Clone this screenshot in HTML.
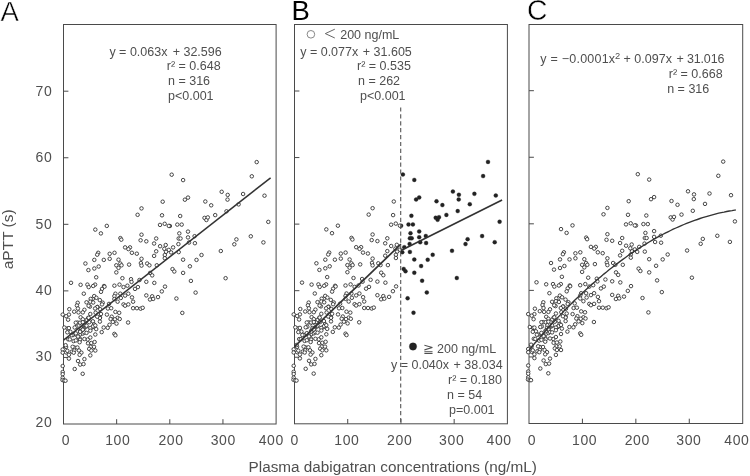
<!DOCTYPE html>
<html><head><meta charset="utf-8"><title>Figure</title>
<style>
html,body{margin:0;padding:0;background:#fff;}
body{width:750px;height:476px;overflow:hidden;font-family:"Liberation Sans",sans-serif;}
svg{display:block;position:absolute;left:0;top:0;filter:grayscale(1);}
text{font-family:"Liberation Sans",sans-serif;}
.t{font-size:12.5px;fill:#4f4f4f;}
.ax{font-size:14px;fill:#4f4f4f;letter-spacing:0.6px;}
.pl{font-size:27.5px;fill:#000;}
.o{fill:#fff;stroke:#333;stroke-width:0.9;}
.f{fill:#222;stroke:#222;stroke-width:0.3;}
.fr{fill:none;stroke:#4a4a4a;stroke-width:1;}
.tk{stroke:#4a4a4a;stroke-width:1;}
.ln{fill:none;stroke:#333;stroke-width:1.7;}
</style></head><body>
<svg width="750" height="476" viewBox="0 0 750 476">
<rect x="0" y="0" width="750" height="476" fill="#fff"/>

<rect class="fr" x="63.50" y="24.5" width="212.60" height="399.50"/>
<line class="tk" x1="63.50" x2="68.40" y1="357.44" y2="357.44"/>
<line class="tk" x1="63.50" x2="68.40" y1="290.88" y2="290.88"/>
<line class="tk" x1="63.50" x2="68.40" y1="224.32" y2="224.32"/>
<line class="tk" x1="63.50" x2="68.40" y1="157.76" y2="157.76"/>
<line class="tk" x1="63.50" x2="68.40" y1="91.20" y2="91.20"/>
<line class="tk" x1="116.65" x2="116.65" y1="424.00" y2="419.20"/>
<line class="tk" x1="169.80" x2="169.80" y1="424.00" y2="419.20"/>
<line class="tk" x1="222.95" x2="222.95" y1="424.00" y2="419.20"/>
<text class="ax" x="66.00" y="445.2" text-anchor="middle">0</text>
<text class="ax" x="117.80" y="445.2" text-anchor="middle">100</text>
<text class="ax" x="171.00" y="445.2" text-anchor="middle">200</text>
<text class="ax" x="223.30" y="445.2" text-anchor="middle">300</text>
<text class="ax" x="271.30" y="445.2" text-anchor="middle">400</text>
<rect class="fr" x="294.50" y="24.5" width="212.90" height="399.30"/>
<line class="tk" x1="294.50" x2="299.40" y1="357.24" y2="357.24"/>
<line class="tk" x1="294.50" x2="299.40" y1="290.68" y2="290.68"/>
<line class="tk" x1="294.50" x2="299.40" y1="224.12" y2="224.12"/>
<line class="tk" x1="294.50" x2="299.40" y1="157.56" y2="157.56"/>
<line class="tk" x1="294.50" x2="299.40" y1="91.00" y2="91.00"/>
<line class="tk" x1="347.72" x2="347.72" y1="423.80" y2="419.00"/>
<line class="tk" x1="400.95" x2="400.95" y1="423.80" y2="419.00"/>
<line class="tk" x1="454.17" x2="454.17" y1="423.80" y2="419.00"/>
<text class="ax" x="294.80" y="445.2" text-anchor="middle">0</text>
<text class="ax" x="346.90" y="445.2" text-anchor="middle">100</text>
<text class="ax" x="399.70" y="445.2" text-anchor="middle">200</text>
<text class="ax" x="451.70" y="445.2" text-anchor="middle">300</text>
<text class="ax" x="499.10" y="445.2" text-anchor="middle">400</text>
<rect class="fr" x="529.00" y="24.5" width="213.70" height="399.00"/>
<line class="tk" x1="529.00" x2="533.90" y1="356.94" y2="356.94"/>
<line class="tk" x1="529.00" x2="533.90" y1="290.38" y2="290.38"/>
<line class="tk" x1="529.00" x2="533.90" y1="223.82" y2="223.82"/>
<line class="tk" x1="529.00" x2="533.90" y1="157.26" y2="157.26"/>
<line class="tk" x1="529.00" x2="533.90" y1="90.70" y2="90.70"/>
<line class="tk" x1="582.42" x2="582.42" y1="423.50" y2="418.70"/>
<line class="tk" x1="635.85" x2="635.85" y1="423.50" y2="418.70"/>
<line class="tk" x1="689.28" x2="689.28" y1="423.50" y2="418.70"/>
<text class="ax" x="532.00" y="445.2" text-anchor="middle">0</text>
<text class="ax" x="584.60" y="445.2" text-anchor="middle">100</text>
<text class="ax" x="637.30" y="445.2" text-anchor="middle">200</text>
<text class="ax" x="688.90" y="445.2" text-anchor="middle">300</text>
<text class="ax" x="736.90" y="445.2" text-anchor="middle">400</text>
<text class="ax" x="52.4" y="427.3" text-anchor="end">20</text>
<text class="ax" x="52.4" y="361.0" text-anchor="end">30</text>
<text class="ax" x="52.4" y="294.7" text-anchor="end">40</text>
<text class="ax" x="52.4" y="228.5" text-anchor="end">50</text>
<text class="ax" x="52.4" y="162.2" text-anchor="end">60</text>
<text class="ax" x="52.4" y="95.9" text-anchor="end">70</text>
<text class="ax" transform="translate(13.3,239.3) rotate(-90)" text-anchor="middle" style="font-size:15.5px;letter-spacing:0">aPTT (s)</text>
<text class="ax" x="392.7" y="471.5" text-anchor="middle" style="font-size:15.3px;letter-spacing:0">Plasma dabigatran concentrations (ng/mL)</text>
<text class="pl" x="0.5" y="20.9" style="stroke:#fff;stroke-width:0.45;paint-order:fill stroke">A</text>
<text class="pl" x="291.6" y="19.9">B</text>
<text class="pl" transform="translate(526.9,20.3) scale(1.03,1.08)" x="0" y="0" style="stroke:#fff;stroke-width:0.45;paint-order:fill stroke">C</text>
<g><circle class="o" cx="77.6" cy="322.6" r="1.75"/><circle class="o" cx="67.5" cy="328.4" r="1.75"/><circle class="o" cx="86.2" cy="326.7" r="1.75"/><circle class="o" cx="85.1" cy="322.3" r="1.75"/><circle class="o" cx="66.1" cy="347.0" r="1.75"/><circle class="o" cx="68.2" cy="339.3" r="1.75"/><circle class="o" cx="81.7" cy="325.7" r="1.75"/><circle class="o" cx="73.6" cy="341.1" r="1.75"/><circle class="o" cx="89.9" cy="306.6" r="1.75"/><circle class="o" cx="80.6" cy="334.2" r="1.75"/><circle class="o" cx="104.0" cy="286.0" r="1.75"/><circle class="o" cx="76.3" cy="327.0" r="1.75"/><circle class="o" cx="70.4" cy="331.8" r="1.75"/><circle class="o" cx="97.5" cy="306.9" r="1.75"/><circle class="o" cx="71.9" cy="351.7" r="1.75"/><circle class="o" cx="79.6" cy="338.3" r="1.75"/><circle class="o" cx="86.7" cy="320.0" r="1.75"/><circle class="o" cx="72.9" cy="335.1" r="1.75"/><circle class="o" cx="92.0" cy="327.5" r="1.75"/><circle class="o" cx="88.2" cy="317.9" r="1.75"/><circle class="o" cx="82.9" cy="333.5" r="1.75"/><circle class="o" cx="92.8" cy="298.8" r="1.75"/><circle class="o" cx="74.4" cy="347.5" r="1.75"/><circle class="o" cx="99.9" cy="317.5" r="1.75"/><circle class="o" cx="94.0" cy="324.3" r="1.75"/><circle class="o" cx="69.3" cy="309.2" r="1.75"/><circle class="o" cx="81.5" cy="328.3" r="1.75"/><circle class="o" cx="84.3" cy="332.4" r="1.75"/><circle class="o" cx="66.1" cy="352.4" r="1.75"/><circle class="o" cx="87.7" cy="339.5" r="1.75"/><circle class="o" cx="99.9" cy="318.0" r="1.75"/><circle class="o" cx="88.6" cy="305.8" r="1.75"/><circle class="o" cx="88.0" cy="343.3" r="1.75"/><circle class="o" cx="102.7" cy="302.7" r="1.75"/><circle class="o" cx="83.7" cy="328.5" r="1.75"/><circle class="o" cx="92.9" cy="321.3" r="1.75"/><circle class="o" cx="90.7" cy="298.9" r="1.75"/><circle class="o" cx="76.1" cy="334.6" r="1.75"/><circle class="o" cx="80.1" cy="331.0" r="1.75"/><circle class="o" cx="83.2" cy="329.1" r="1.75"/><circle class="o" cx="71.4" cy="335.2" r="1.75"/><circle class="o" cx="95.6" cy="312.7" r="1.75"/><circle class="o" cx="69.8" cy="339.4" r="1.75"/><circle class="o" cx="99.8" cy="300.1" r="1.75"/><circle class="o" cx="256.7" cy="162.1" r="1.75"/><circle class="o" cx="251.8" cy="176.3" r="1.75"/><circle class="o" cx="171.7" cy="174.7" r="1.75"/><circle class="o" cx="183.1" cy="180.1" r="1.75"/><circle class="o" cx="221.7" cy="191.8" r="1.75"/><circle class="o" cx="227.7" cy="194.9" r="1.75"/><circle class="o" cx="227.5" cy="199.6" r="1.75"/><circle class="o" cx="243.1" cy="194.0" r="1.75"/><circle class="o" cx="264.5" cy="195.7" r="1.75"/><circle class="o" cx="188.0" cy="197.6" r="1.75"/><circle class="o" cx="184.9" cy="199.7" r="1.75"/><circle class="o" cx="205.3" cy="201.5" r="1.75"/><circle class="o" cx="211.2" cy="205.3" r="1.75"/><circle class="o" cx="238.6" cy="204.4" r="1.75"/><circle class="o" cx="226.5" cy="211.3" r="1.75"/><circle class="o" cx="215.2" cy="215.1" r="1.75"/><circle class="o" cx="204.5" cy="217.9" r="1.75"/><circle class="o" cx="206.4" cy="220.0" r="1.75"/><circle class="o" cx="180.2" cy="216.0" r="1.75"/><circle class="o" cx="177.3" cy="224.6" r="1.75"/><circle class="o" cx="181.7" cy="224.6" r="1.75"/><circle class="o" cx="169.9" cy="226.0" r="1.75"/><circle class="o" cx="188.0" cy="231.6" r="1.75"/><circle class="o" cx="179.3" cy="233.4" r="1.75"/><circle class="o" cx="188.0" cy="237.4" r="1.75"/><circle class="o" cx="194.6" cy="236.2" r="1.75"/><circle class="o" cx="178.7" cy="238.5" r="1.75"/><circle class="o" cx="180.5" cy="238.5" r="1.75"/><circle class="o" cx="189.0" cy="242.5" r="1.75"/><circle class="o" cx="194.9" cy="243.2" r="1.75"/><circle class="o" cx="178.4" cy="244.1" r="1.75"/><circle class="o" cx="173.1" cy="247.4" r="1.75"/><circle class="o" cx="171.1" cy="252.4" r="1.75"/><circle class="o" cx="178.7" cy="252.1" r="1.75"/><circle class="o" cx="268.3" cy="221.9" r="1.75"/><circle class="o" cx="250.8" cy="236.3" r="1.75"/><circle class="o" cx="236.4" cy="239.4" r="1.75"/><circle class="o" cx="234.3" cy="244.3" r="1.75"/><circle class="o" cx="263.4" cy="242.4" r="1.75"/><circle class="o" cx="220.8" cy="251.0" r="1.75"/><circle class="o" cx="201.5" cy="255.0" r="1.75"/><circle class="o" cx="196.5" cy="259.9" r="1.75"/><circle class="o" cx="183.1" cy="259.7" r="1.75"/><circle class="o" cx="189.9" cy="266.3" r="1.75"/><circle class="o" cx="172.5" cy="269.1" r="1.75"/><circle class="o" cx="174.3" cy="271.5" r="1.75"/><circle class="o" cx="183.1" cy="272.9" r="1.75"/><circle class="o" cx="225.6" cy="278.2" r="1.75"/><circle class="o" cx="190.9" cy="280.9" r="1.75"/><circle class="o" cx="195.6" cy="292.6" r="1.75"/><circle class="o" cx="176.4" cy="298.5" r="1.75"/><circle class="o" cx="182.3" cy="312.9" r="1.75"/><circle class="o" cx="162.7" cy="201.7" r="1.75"/><circle class="o" cx="141.5" cy="208.4" r="1.75"/><circle class="o" cx="137.6" cy="214.8" r="1.75"/><circle class="o" cx="162.0" cy="215.3" r="1.75"/><circle class="o" cx="160.0" cy="224.9" r="1.75"/><circle class="o" cx="164.7" cy="223.8" r="1.75"/><circle class="o" cx="168.8" cy="225.9" r="1.75"/><circle class="o" cx="106.8" cy="225.9" r="1.75"/><circle class="o" cx="95.3" cy="229.6" r="1.75"/><circle class="o" cx="100.9" cy="233.4" r="1.75"/><circle class="o" cx="141.5" cy="234.7" r="1.75"/><circle class="o" cx="120.4" cy="238.1" r="1.75"/><circle class="o" cx="121.3" cy="239.7" r="1.75"/><circle class="o" cx="140.6" cy="240.3" r="1.75"/><circle class="o" cx="146.3" cy="241.3" r="1.75"/><circle class="o" cx="156.2" cy="238.5" r="1.75"/><circle class="o" cx="154.1" cy="243.5" r="1.75"/><circle class="o" cx="160.1" cy="246.2" r="1.75"/><circle class="o" cx="165.7" cy="245.0" r="1.75"/><circle class="o" cx="125.1" cy="247.4" r="1.75"/><circle class="o" cx="130.0" cy="247.4" r="1.75"/><circle class="o" cx="128.4" cy="249.1" r="1.75"/><circle class="o" cx="131.9" cy="252.8" r="1.75"/><circle class="o" cx="136.8" cy="253.7" r="1.75"/><circle class="o" cx="164.3" cy="248.8" r="1.75"/><circle class="o" cx="168.8" cy="249.9" r="1.75"/><circle class="o" cx="156.2" cy="251.3" r="1.75"/><circle class="o" cx="166.0" cy="251.8" r="1.75"/><circle class="o" cx="164.8" cy="255.0" r="1.75"/><circle class="o" cx="154.1" cy="255.9" r="1.75"/><circle class="o" cx="98.2" cy="252.8" r="1.75"/><circle class="o" cx="97.2" cy="254.7" r="1.75"/><circle class="o" cx="109.7" cy="253.8" r="1.75"/><circle class="o" cx="114.5" cy="252.8" r="1.75"/><circle class="o" cx="109.7" cy="258.8" r="1.75"/><circle class="o" cx="103.8" cy="259.9" r="1.75"/><circle class="o" cx="94.3" cy="259.9" r="1.75"/><circle class="o" cx="118.5" cy="259.7" r="1.75"/><circle class="o" cx="141.5" cy="258.8" r="1.75"/><circle class="o" cx="164.8" cy="258.2" r="1.75"/><circle class="o" cx="85.4" cy="263.5" r="1.75"/><circle class="o" cx="120.3" cy="263.5" r="1.75"/><circle class="o" cx="116.3" cy="265.3" r="1.75"/><circle class="o" cx="121.5" cy="265.3" r="1.75"/><circle class="o" cx="129.1" cy="264.6" r="1.75"/><circle class="o" cx="140.9" cy="263.1" r="1.75"/><circle class="o" cx="141.5" cy="265.6" r="1.75"/><circle class="o" cx="147.2" cy="263.5" r="1.75"/><circle class="o" cx="149.4" cy="265.3" r="1.75"/><circle class="o" cx="156.8" cy="265.3" r="1.75"/><circle class="o" cx="98.7" cy="266.5" r="1.75"/><circle class="o" cx="94.3" cy="268.5" r="1.75"/><circle class="o" cx="88.4" cy="270.1" r="1.75"/><circle class="o" cx="118.5" cy="267.9" r="1.75"/><circle class="o" cx="116.3" cy="272.4" r="1.75"/><circle class="o" cx="150.1" cy="272.9" r="1.75"/><circle class="o" cx="96.2" cy="277.3" r="1.75"/><circle class="o" cx="122.4" cy="278.2" r="1.75"/><circle class="o" cx="131.0" cy="279.2" r="1.75"/><circle class="o" cx="139.5" cy="280.0" r="1.75"/><circle class="o" cx="71.0" cy="282.8" r="1.75"/><circle class="o" cx="80.6" cy="284.8" r="1.75"/><circle class="o" cx="87.4" cy="284.6" r="1.75"/><circle class="o" cx="88.7" cy="287.1" r="1.75"/><circle class="o" cx="95.1" cy="284.6" r="1.75"/><circle class="o" cx="93.2" cy="286.0" r="1.75"/><circle class="o" cx="104.5" cy="286.7" r="1.75"/><circle class="o" cx="102.0" cy="288.9" r="1.75"/><circle class="o" cx="101.0" cy="291.8" r="1.75"/><circle class="o" cx="114.4" cy="285.7" r="1.75"/><circle class="o" cx="119.5" cy="284.6" r="1.75"/><circle class="o" cx="123.5" cy="287.1" r="1.75"/><circle class="o" cx="127.4" cy="285.7" r="1.75"/><circle class="o" cx="131.5" cy="281.9" r="1.75"/><circle class="o" cx="137.9" cy="287.1" r="1.75"/><circle class="o" cx="135.0" cy="288.9" r="1.75"/><circle class="o" cx="83.8" cy="293.7" r="1.75"/><circle class="o" cx="94.2" cy="296.1" r="1.75"/><circle class="o" cx="96.4" cy="297.8" r="1.75"/><circle class="o" cx="115.4" cy="293.7" r="1.75"/><circle class="o" cx="120.3" cy="293.7" r="1.75"/><circle class="o" cx="114.4" cy="296.1" r="1.75"/><circle class="o" cx="125.1" cy="295.6" r="1.75"/><circle class="o" cx="128.3" cy="293.7" r="1.75"/><circle class="o" cx="132.0" cy="297.4" r="1.75"/><circle class="o" cx="120.8" cy="298.0" r="1.75"/><circle class="o" cx="114.4" cy="299.0" r="1.75"/><circle class="o" cx="77.7" cy="302.8" r="1.75"/><circle class="o" cx="76.9" cy="305.5" r="1.75"/><circle class="o" cx="86.5" cy="302.3" r="1.75"/><circle class="o" cx="90.3" cy="301.7" r="1.75"/><circle class="o" cx="93.2" cy="302.5" r="1.75"/><circle class="o" cx="102.0" cy="304.4" r="1.75"/><circle class="o" cx="109.0" cy="303.9" r="1.75"/><circle class="o" cx="117.6" cy="301.7" r="1.75"/><circle class="o" cx="133.1" cy="301.7" r="1.75"/><circle class="o" cx="123.5" cy="304.4" r="1.75"/><circle class="o" cx="125.1" cy="305.7" r="1.75"/><circle class="o" cx="128.3" cy="304.4" r="1.75"/><circle class="o" cx="97.2" cy="307.1" r="1.75"/><circle class="o" cx="95.1" cy="308.5" r="1.75"/><circle class="o" cx="100.2" cy="309.2" r="1.75"/><circle class="o" cx="77.9" cy="308.5" r="1.75"/><circle class="o" cx="84.4" cy="309.8" r="1.75"/><circle class="o" cx="74.2" cy="311.7" r="1.75"/><circle class="o" cx="78.5" cy="312.4" r="1.75"/><circle class="o" cx="82.8" cy="312.4" r="1.75"/><circle class="o" cx="107.9" cy="308.5" r="1.75"/><circle class="o" cx="111.2" cy="308.2" r="1.75"/><circle class="o" cx="133.1" cy="308.2" r="1.75"/><circle class="o" cx="136.9" cy="308.2" r="1.75"/><circle class="o" cx="140.6" cy="308.7" r="1.75"/><circle class="o" cx="115.4" cy="311.9" r="1.75"/><circle class="o" cx="119.2" cy="312.8" r="1.75"/><circle class="o" cx="106.9" cy="314.6" r="1.75"/><circle class="o" cx="101.0" cy="314.0" r="1.75"/><circle class="o" cx="90.3" cy="314.0" r="1.75"/><circle class="o" cx="68.9" cy="314.6" r="1.75"/><circle class="o" cx="66.2" cy="316.2" r="1.75"/><circle class="o" cx="62.7" cy="314.6" r="1.75"/><circle class="o" cx="80.6" cy="317.3" r="1.75"/><circle class="o" cx="88.7" cy="317.8" r="1.75"/><circle class="o" cx="97.2" cy="316.7" r="1.75"/><circle class="o" cx="111.7" cy="316.7" r="1.75"/><circle class="o" cx="117.6" cy="317.8" r="1.75"/><circle class="o" cx="68.1" cy="319.7" r="1.75"/><circle class="o" cx="82.8" cy="319.3" r="1.75"/><circle class="o" cx="110.6" cy="319.0" r="1.75"/><circle class="o" cx="114.9" cy="319.3" r="1.75"/><circle class="o" cx="119.7" cy="319.0" r="1.75"/><circle class="o" cx="99.9" cy="321.6" r="1.75"/><circle class="o" cx="112.8" cy="321.9" r="1.75"/><circle class="o" cx="116.5" cy="323.6" r="1.75"/><circle class="o" cx="128.1" cy="322.5" r="1.75"/><circle class="o" cx="109.5" cy="324.8" r="1.75"/><circle class="o" cx="75.8" cy="322.7" r="1.75"/><circle class="o" cx="80.1" cy="322.7" r="1.75"/><circle class="o" cx="82.8" cy="322.2" r="1.75"/><circle class="o" cx="89.2" cy="322.2" r="1.75"/><circle class="o" cx="86.5" cy="325.7" r="1.75"/><circle class="o" cx="92.9" cy="326.5" r="1.75"/><circle class="o" cx="95.3" cy="325.4" r="1.75"/><circle class="o" cx="74.7" cy="327.5" r="1.75"/><circle class="o" cx="68.9" cy="328.1" r="1.75"/><circle class="o" cx="64.3" cy="327.5" r="1.75"/><circle class="o" cx="90.3" cy="328.1" r="1.75"/><circle class="o" cx="96.2" cy="329.1" r="1.75"/><circle class="o" cx="103.7" cy="327.5" r="1.75"/><circle class="o" cx="107.7" cy="327.8" r="1.75"/><circle class="o" cx="82.8" cy="329.7" r="1.75"/><circle class="o" cx="80.1" cy="331.8" r="1.75"/><circle class="o" cx="90.3" cy="330.7" r="1.75"/><circle class="o" cx="67.3" cy="332.3" r="1.75"/><circle class="o" cx="75.8" cy="333.4" r="1.75"/><circle class="o" cx="86.5" cy="332.9" r="1.75"/><circle class="o" cx="101.7" cy="332.1" r="1.75"/><circle class="o" cx="95.3" cy="334.5" r="1.75"/><circle class="o" cx="114.4" cy="333.9" r="1.75"/><circle class="o" cx="115.4" cy="335.3" r="1.75"/><circle class="o" cx="78.0" cy="336.6" r="1.75"/><circle class="o" cx="90.3" cy="337.5" r="1.75"/><circle class="o" cx="84.4" cy="339.0" r="1.75"/><circle class="o" cx="75.8" cy="340.4" r="1.75"/><circle class="o" cx="80.1" cy="339.8" r="1.75"/><circle class="o" cx="79.6" cy="342.2" r="1.75"/><circle class="o" cx="91.3" cy="343.0" r="1.75"/><circle class="o" cx="94.6" cy="342.0" r="1.75"/><circle class="o" cx="65.6" cy="345.2" r="1.75"/><circle class="o" cx="72.6" cy="346.8" r="1.75"/><circle class="o" cx="77.4" cy="347.5" r="1.75"/><circle class="o" cx="90.8" cy="346.8" r="1.75"/><circle class="o" cx="94.0" cy="346.8" r="1.75"/><circle class="o" cx="62.7" cy="349.5" r="1.75"/><circle class="o" cx="67.3" cy="350.8" r="1.75"/><circle class="o" cx="74.2" cy="350.5" r="1.75"/><circle class="o" cx="79.0" cy="350.5" r="1.75"/><circle class="o" cx="89.2" cy="348.9" r="1.75"/><circle class="o" cx="91.3" cy="350.5" r="1.75"/><circle class="o" cx="95.3" cy="350.5" r="1.75"/><circle class="o" cx="81.4" cy="352.7" r="1.75"/><circle class="o" cx="73.7" cy="352.7" r="1.75"/><circle class="o" cx="79.6" cy="354.8" r="1.75"/><circle class="o" cx="68.9" cy="354.8" r="1.75"/><circle class="o" cx="90.3" cy="355.4" r="1.75"/><circle class="o" cx="68.9" cy="358.6" r="1.75"/><circle class="o" cx="84.4" cy="359.1" r="1.75"/><circle class="o" cx="78.0" cy="361.0" r="1.75"/><circle class="o" cx="62.7" cy="352.7" r="1.75"/><circle class="o" cx="80.2" cy="364.6" r="1.75"/><circle class="o" cx="83.5" cy="364.1" r="1.75"/><circle class="o" cx="74.7" cy="369.0" r="1.75"/><circle class="o" cx="82.7" cy="373.8" r="1.75"/><circle class="o" cx="62.7" cy="366.0" r="1.75"/><circle class="o" cx="62.7" cy="372.0" r="1.75"/><circle class="o" cx="62.7" cy="374.2" r="1.75"/><circle class="o" cx="62.7" cy="377.8" r="1.75"/><circle class="o" cx="62.5" cy="380.0" r="1.75"/><circle class="o" cx="64.2" cy="380.6" r="1.75"/><circle class="o" cx="65.5" cy="380.7" r="1.75"/><circle class="o" cx="152.2" cy="275.4" r="1.75"/><circle class="o" cx="146.3" cy="281.8" r="1.75"/><circle class="o" cx="154.3" cy="282.9" r="1.75"/><circle class="o" cx="165.0" cy="286.6" r="1.75"/><circle class="o" cx="161.8" cy="291.4" r="1.75"/><circle class="o" cx="146.3" cy="295.4" r="1.75"/><circle class="o" cx="152.2" cy="296.3" r="1.75"/><circle class="o" cx="158.0" cy="297.1" r="1.75"/><circle class="o" cx="150.0" cy="299.5" r="1.75"/><circle class="o" cx="153.2" cy="298.9" r="1.75"/><circle class="o" cx="142.7" cy="307.8" r="1.75"/><circle class="o" cx="207.8" cy="217.4" r="1.75"/></g>
<g><circle class="o" cx="308.7" cy="322.4" r="1.75"/><circle class="o" cx="298.5" cy="328.2" r="1.75"/><circle class="o" cx="317.2" cy="326.5" r="1.75"/><circle class="o" cx="316.1" cy="322.1" r="1.75"/><circle class="o" cx="297.1" cy="346.8" r="1.75"/><circle class="o" cx="299.2" cy="339.1" r="1.75"/><circle class="o" cx="312.7" cy="325.5" r="1.75"/><circle class="o" cx="304.6" cy="340.9" r="1.75"/><circle class="o" cx="320.9" cy="306.4" r="1.75"/><circle class="o" cx="311.6" cy="334.0" r="1.75"/><circle class="o" cx="335.1" cy="285.8" r="1.75"/><circle class="o" cx="307.3" cy="326.8" r="1.75"/><circle class="o" cx="301.4" cy="331.6" r="1.75"/><circle class="o" cx="328.6" cy="306.7" r="1.75"/><circle class="o" cx="302.9" cy="351.5" r="1.75"/><circle class="o" cx="310.6" cy="338.1" r="1.75"/><circle class="o" cx="317.7" cy="319.8" r="1.75"/><circle class="o" cx="303.9" cy="334.9" r="1.75"/><circle class="o" cx="323.1" cy="327.3" r="1.75"/><circle class="o" cx="319.3" cy="317.7" r="1.75"/><circle class="o" cx="313.9" cy="333.3" r="1.75"/><circle class="o" cx="323.8" cy="298.6" r="1.75"/><circle class="o" cx="305.4" cy="347.3" r="1.75"/><circle class="o" cx="331.0" cy="317.3" r="1.75"/><circle class="o" cx="325.1" cy="324.1" r="1.75"/><circle class="o" cx="300.3" cy="309.0" r="1.75"/><circle class="o" cx="312.5" cy="328.1" r="1.75"/><circle class="o" cx="315.3" cy="332.2" r="1.75"/><circle class="o" cx="297.2" cy="352.2" r="1.75"/><circle class="o" cx="318.7" cy="339.3" r="1.75"/><circle class="o" cx="331.0" cy="317.8" r="1.75"/><circle class="o" cx="319.6" cy="305.6" r="1.75"/><circle class="o" cx="319.0" cy="343.1" r="1.75"/><circle class="o" cx="333.8" cy="302.5" r="1.75"/><circle class="o" cx="314.7" cy="328.3" r="1.75"/><circle class="o" cx="323.9" cy="321.1" r="1.75"/><circle class="o" cx="321.7" cy="298.7" r="1.75"/><circle class="o" cx="307.1" cy="334.4" r="1.75"/><circle class="o" cx="311.2" cy="330.8" r="1.75"/><circle class="o" cx="314.2" cy="328.9" r="1.75"/><circle class="o" cx="302.4" cy="335.0" r="1.75"/><circle class="o" cx="326.6" cy="312.5" r="1.75"/><circle class="o" cx="300.8" cy="339.2" r="1.75"/><circle class="o" cx="330.8" cy="299.9" r="1.75"/><circle class="f" cx="488.0" cy="161.9" r="2.0"/><circle class="f" cx="483.1" cy="176.1" r="2.0"/><circle class="f" cx="402.9" cy="174.5" r="2.0"/><circle class="f" cx="414.3" cy="179.9" r="2.0"/><circle class="f" cx="452.9" cy="191.6" r="2.0"/><circle class="f" cx="458.9" cy="194.7" r="2.0"/><circle class="f" cx="458.7" cy="199.4" r="2.0"/><circle class="f" cx="474.4" cy="193.8" r="2.0"/><circle class="f" cx="495.8" cy="195.5" r="2.0"/><circle class="f" cx="419.2" cy="197.4" r="2.0"/><circle class="f" cx="416.1" cy="199.5" r="2.0"/><circle class="f" cx="436.5" cy="201.3" r="2.0"/><circle class="f" cx="442.4" cy="205.1" r="2.0"/><circle class="f" cx="469.8" cy="204.2" r="2.0"/><circle class="f" cx="457.7" cy="211.1" r="2.0"/><circle class="f" cx="446.4" cy="214.9" r="2.0"/><circle class="f" cx="435.7" cy="217.7" r="2.0"/><circle class="f" cx="437.6" cy="219.8" r="2.0"/><circle class="f" cx="411.4" cy="215.8" r="2.0"/><circle class="f" cx="408.5" cy="224.4" r="2.0"/><circle class="f" cx="412.9" cy="224.4" r="2.0"/><circle class="f" cx="401.1" cy="225.8" r="2.0"/><circle class="f" cx="419.2" cy="231.4" r="2.0"/><circle class="f" cx="410.5" cy="233.2" r="2.0"/><circle class="f" cx="419.2" cy="237.2" r="2.0"/><circle class="f" cx="425.8" cy="236.0" r="2.0"/><circle class="f" cx="409.9" cy="238.3" r="2.0"/><circle class="f" cx="411.7" cy="238.3" r="2.0"/><circle class="f" cx="420.2" cy="242.3" r="2.0"/><circle class="f" cx="426.1" cy="243.0" r="2.0"/><circle class="f" cx="409.6" cy="243.9" r="2.0"/><circle class="f" cx="404.3" cy="247.2" r="2.0"/><circle class="f" cx="402.3" cy="252.2" r="2.0"/><circle class="f" cx="409.9" cy="251.9" r="2.0"/><circle class="f" cx="499.6" cy="221.7" r="2.0"/><circle class="f" cx="482.1" cy="236.1" r="2.0"/><circle class="f" cx="467.6" cy="239.2" r="2.0"/><circle class="f" cx="465.5" cy="244.1" r="2.0"/><circle class="f" cx="494.7" cy="242.2" r="2.0"/><circle class="f" cx="452.0" cy="250.8" r="2.0"/><circle class="f" cx="432.7" cy="254.8" r="2.0"/><circle class="f" cx="427.7" cy="259.7" r="2.0"/><circle class="f" cx="414.3" cy="259.5" r="2.0"/><circle class="f" cx="421.1" cy="266.1" r="2.0"/><circle class="f" cx="403.7" cy="268.9" r="2.0"/><circle class="f" cx="405.5" cy="271.3" r="2.0"/><circle class="f" cx="414.3" cy="272.7" r="2.0"/><circle class="f" cx="456.8" cy="278.0" r="2.0"/><circle class="f" cx="422.1" cy="280.7" r="2.0"/><circle class="f" cx="426.8" cy="292.4" r="2.0"/><circle class="f" cx="407.6" cy="298.3" r="2.0"/><circle class="f" cx="413.5" cy="312.7" r="2.0"/><circle class="o" cx="393.8" cy="201.5" r="1.75"/><circle class="o" cx="372.6" cy="208.2" r="1.75"/><circle class="o" cx="368.7" cy="214.6" r="1.75"/><circle class="o" cx="393.1" cy="215.1" r="1.75"/><circle class="o" cx="391.1" cy="224.7" r="1.75"/><circle class="o" cx="395.8" cy="223.6" r="1.75"/><circle class="o" cx="399.9" cy="225.7" r="1.75"/><circle class="o" cx="337.9" cy="225.7" r="1.75"/><circle class="o" cx="326.3" cy="229.4" r="1.75"/><circle class="o" cx="332.0" cy="233.2" r="1.75"/><circle class="o" cx="372.6" cy="234.5" r="1.75"/><circle class="o" cx="351.5" cy="237.9" r="1.75"/><circle class="o" cx="352.4" cy="239.5" r="1.75"/><circle class="o" cx="371.7" cy="240.1" r="1.75"/><circle class="o" cx="377.4" cy="241.1" r="1.75"/><circle class="o" cx="387.3" cy="238.3" r="1.75"/><circle class="o" cx="385.2" cy="243.3" r="1.75"/><circle class="o" cx="391.2" cy="246.0" r="1.75"/><circle class="o" cx="396.8" cy="244.8" r="1.75"/><circle class="o" cx="356.2" cy="247.2" r="1.75"/><circle class="o" cx="361.1" cy="247.2" r="1.75"/><circle class="o" cx="359.5" cy="248.9" r="1.75"/><circle class="o" cx="363.0" cy="252.6" r="1.75"/><circle class="o" cx="367.9" cy="253.5" r="1.75"/><circle class="o" cx="395.4" cy="248.6" r="1.75"/><circle class="o" cx="399.9" cy="249.7" r="1.75"/><circle class="o" cx="387.3" cy="251.1" r="1.75"/><circle class="o" cx="397.1" cy="251.6" r="1.75"/><circle class="o" cx="395.9" cy="254.8" r="1.75"/><circle class="o" cx="385.2" cy="255.7" r="1.75"/><circle class="o" cx="329.2" cy="252.6" r="1.75"/><circle class="o" cx="328.2" cy="254.5" r="1.75"/><circle class="o" cx="340.8" cy="253.6" r="1.75"/><circle class="o" cx="345.6" cy="252.6" r="1.75"/><circle class="o" cx="340.8" cy="258.6" r="1.75"/><circle class="o" cx="334.9" cy="259.7" r="1.75"/><circle class="o" cx="325.3" cy="259.7" r="1.75"/><circle class="o" cx="349.6" cy="259.5" r="1.75"/><circle class="o" cx="372.6" cy="258.6" r="1.75"/><circle class="o" cx="395.9" cy="258.0" r="1.75"/><circle class="o" cx="316.4" cy="263.3" r="1.75"/><circle class="o" cx="351.4" cy="263.3" r="1.75"/><circle class="o" cx="347.4" cy="265.1" r="1.75"/><circle class="o" cx="352.6" cy="265.1" r="1.75"/><circle class="o" cx="360.2" cy="264.4" r="1.75"/><circle class="o" cx="372.0" cy="262.9" r="1.75"/><circle class="o" cx="372.6" cy="265.4" r="1.75"/><circle class="o" cx="378.3" cy="263.3" r="1.75"/><circle class="o" cx="380.5" cy="265.1" r="1.75"/><circle class="o" cx="387.9" cy="265.1" r="1.75"/><circle class="o" cx="329.7" cy="266.3" r="1.75"/><circle class="o" cx="325.3" cy="268.3" r="1.75"/><circle class="o" cx="319.4" cy="269.9" r="1.75"/><circle class="o" cx="349.6" cy="267.7" r="1.75"/><circle class="o" cx="347.4" cy="272.2" r="1.75"/><circle class="o" cx="381.2" cy="272.7" r="1.75"/><circle class="o" cx="327.2" cy="277.1" r="1.75"/><circle class="o" cx="353.5" cy="278.0" r="1.75"/><circle class="o" cx="362.1" cy="279.0" r="1.75"/><circle class="o" cx="370.6" cy="279.8" r="1.75"/><circle class="o" cx="302.0" cy="282.6" r="1.75"/><circle class="o" cx="311.6" cy="284.6" r="1.75"/><circle class="o" cx="318.4" cy="284.4" r="1.75"/><circle class="o" cx="319.7" cy="286.9" r="1.75"/><circle class="o" cx="326.1" cy="284.4" r="1.75"/><circle class="o" cx="324.2" cy="285.8" r="1.75"/><circle class="o" cx="335.6" cy="286.5" r="1.75"/><circle class="o" cx="333.1" cy="288.7" r="1.75"/><circle class="o" cx="332.1" cy="291.6" r="1.75"/><circle class="o" cx="345.5" cy="285.5" r="1.75"/><circle class="o" cx="350.6" cy="284.4" r="1.75"/><circle class="o" cx="354.6" cy="286.9" r="1.75"/><circle class="o" cx="358.5" cy="285.5" r="1.75"/><circle class="o" cx="362.6" cy="281.7" r="1.75"/><circle class="o" cx="369.0" cy="286.9" r="1.75"/><circle class="o" cx="366.1" cy="288.7" r="1.75"/><circle class="o" cx="314.8" cy="293.5" r="1.75"/><circle class="o" cx="325.2" cy="295.9" r="1.75"/><circle class="o" cx="327.4" cy="297.6" r="1.75"/><circle class="o" cx="346.5" cy="293.5" r="1.75"/><circle class="o" cx="351.4" cy="293.5" r="1.75"/><circle class="o" cx="345.5" cy="295.9" r="1.75"/><circle class="o" cx="356.2" cy="295.4" r="1.75"/><circle class="o" cx="359.4" cy="293.5" r="1.75"/><circle class="o" cx="363.1" cy="297.2" r="1.75"/><circle class="o" cx="351.9" cy="297.8" r="1.75"/><circle class="o" cx="345.5" cy="298.8" r="1.75"/><circle class="o" cx="308.7" cy="302.6" r="1.75"/><circle class="o" cx="307.9" cy="305.3" r="1.75"/><circle class="o" cx="317.5" cy="302.1" r="1.75"/><circle class="o" cx="321.3" cy="301.5" r="1.75"/><circle class="o" cx="324.2" cy="302.3" r="1.75"/><circle class="o" cx="333.1" cy="304.2" r="1.75"/><circle class="o" cx="340.1" cy="303.7" r="1.75"/><circle class="o" cx="348.7" cy="301.5" r="1.75"/><circle class="o" cx="364.2" cy="301.5" r="1.75"/><circle class="o" cx="354.6" cy="304.2" r="1.75"/><circle class="o" cx="356.2" cy="305.5" r="1.75"/><circle class="o" cx="359.4" cy="304.2" r="1.75"/><circle class="o" cx="328.2" cy="306.9" r="1.75"/><circle class="o" cx="326.1" cy="308.3" r="1.75"/><circle class="o" cx="331.3" cy="309.0" r="1.75"/><circle class="o" cx="308.9" cy="308.3" r="1.75"/><circle class="o" cx="315.4" cy="309.6" r="1.75"/><circle class="o" cx="305.2" cy="311.5" r="1.75"/><circle class="o" cx="309.5" cy="312.2" r="1.75"/><circle class="o" cx="313.8" cy="312.2" r="1.75"/><circle class="o" cx="339.0" cy="308.3" r="1.75"/><circle class="o" cx="342.3" cy="308.0" r="1.75"/><circle class="o" cx="364.2" cy="308.0" r="1.75"/><circle class="o" cx="368.0" cy="308.0" r="1.75"/><circle class="o" cx="371.7" cy="308.5" r="1.75"/><circle class="o" cx="346.5" cy="311.7" r="1.75"/><circle class="o" cx="350.3" cy="312.6" r="1.75"/><circle class="o" cx="338.0" cy="314.4" r="1.75"/><circle class="o" cx="332.1" cy="313.8" r="1.75"/><circle class="o" cx="321.3" cy="313.8" r="1.75"/><circle class="o" cx="299.9" cy="314.4" r="1.75"/><circle class="o" cx="297.2" cy="316.0" r="1.75"/><circle class="o" cx="293.7" cy="314.4" r="1.75"/><circle class="o" cx="311.6" cy="317.1" r="1.75"/><circle class="o" cx="319.7" cy="317.6" r="1.75"/><circle class="o" cx="328.2" cy="316.5" r="1.75"/><circle class="o" cx="342.8" cy="316.5" r="1.75"/><circle class="o" cx="348.7" cy="317.6" r="1.75"/><circle class="o" cx="299.1" cy="319.5" r="1.75"/><circle class="o" cx="313.8" cy="319.1" r="1.75"/><circle class="o" cx="341.7" cy="318.8" r="1.75"/><circle class="o" cx="346.0" cy="319.1" r="1.75"/><circle class="o" cx="350.8" cy="318.8" r="1.75"/><circle class="o" cx="331.0" cy="321.4" r="1.75"/><circle class="o" cx="343.9" cy="321.7" r="1.75"/><circle class="o" cx="347.6" cy="323.4" r="1.75"/><circle class="o" cx="359.2" cy="322.3" r="1.75"/><circle class="o" cx="340.6" cy="324.6" r="1.75"/><circle class="o" cx="306.8" cy="322.5" r="1.75"/><circle class="o" cx="311.1" cy="322.5" r="1.75"/><circle class="o" cx="313.8" cy="322.0" r="1.75"/><circle class="o" cx="320.2" cy="322.0" r="1.75"/><circle class="o" cx="317.5" cy="325.5" r="1.75"/><circle class="o" cx="323.9" cy="326.3" r="1.75"/><circle class="o" cx="326.3" cy="325.2" r="1.75"/><circle class="o" cx="305.7" cy="327.3" r="1.75"/><circle class="o" cx="299.9" cy="327.9" r="1.75"/><circle class="o" cx="295.3" cy="327.3" r="1.75"/><circle class="o" cx="321.3" cy="327.9" r="1.75"/><circle class="o" cx="327.2" cy="328.9" r="1.75"/><circle class="o" cx="334.8" cy="327.3" r="1.75"/><circle class="o" cx="338.8" cy="327.6" r="1.75"/><circle class="o" cx="313.8" cy="329.5" r="1.75"/><circle class="o" cx="311.1" cy="331.6" r="1.75"/><circle class="o" cx="321.3" cy="330.5" r="1.75"/><circle class="o" cx="298.3" cy="332.1" r="1.75"/><circle class="o" cx="306.8" cy="333.2" r="1.75"/><circle class="o" cx="317.5" cy="332.7" r="1.75"/><circle class="o" cx="332.8" cy="331.9" r="1.75"/><circle class="o" cx="326.3" cy="334.3" r="1.75"/><circle class="o" cx="345.5" cy="333.7" r="1.75"/><circle class="o" cx="346.5" cy="335.1" r="1.75"/><circle class="o" cx="309.0" cy="336.4" r="1.75"/><circle class="o" cx="321.3" cy="337.3" r="1.75"/><circle class="o" cx="315.4" cy="338.8" r="1.75"/><circle class="o" cx="306.8" cy="340.2" r="1.75"/><circle class="o" cx="311.1" cy="339.6" r="1.75"/><circle class="o" cx="310.6" cy="342.0" r="1.75"/><circle class="o" cx="322.3" cy="342.8" r="1.75"/><circle class="o" cx="325.6" cy="341.8" r="1.75"/><circle class="o" cx="296.6" cy="345.0" r="1.75"/><circle class="o" cx="303.6" cy="346.6" r="1.75"/><circle class="o" cx="308.4" cy="347.3" r="1.75"/><circle class="o" cx="321.8" cy="346.6" r="1.75"/><circle class="o" cx="325.0" cy="346.6" r="1.75"/><circle class="o" cx="293.7" cy="349.3" r="1.75"/><circle class="o" cx="298.3" cy="350.6" r="1.75"/><circle class="o" cx="305.2" cy="350.3" r="1.75"/><circle class="o" cx="310.0" cy="350.3" r="1.75"/><circle class="o" cx="320.2" cy="348.7" r="1.75"/><circle class="o" cx="322.3" cy="350.3" r="1.75"/><circle class="o" cx="326.3" cy="350.3" r="1.75"/><circle class="o" cx="312.4" cy="352.5" r="1.75"/><circle class="o" cx="304.7" cy="352.5" r="1.75"/><circle class="o" cx="310.6" cy="354.6" r="1.75"/><circle class="o" cx="299.9" cy="354.6" r="1.75"/><circle class="o" cx="321.3" cy="355.2" r="1.75"/><circle class="o" cx="299.9" cy="358.4" r="1.75"/><circle class="o" cx="315.4" cy="358.9" r="1.75"/><circle class="o" cx="309.0" cy="360.8" r="1.75"/><circle class="o" cx="293.7" cy="352.5" r="1.75"/><circle class="o" cx="311.2" cy="364.4" r="1.75"/><circle class="o" cx="314.5" cy="363.9" r="1.75"/><circle class="o" cx="305.7" cy="368.8" r="1.75"/><circle class="o" cx="313.7" cy="373.6" r="1.75"/><circle class="o" cx="293.7" cy="365.8" r="1.75"/><circle class="o" cx="293.7" cy="371.8" r="1.75"/><circle class="o" cx="293.7" cy="374.0" r="1.75"/><circle class="o" cx="293.7" cy="377.6" r="1.75"/><circle class="o" cx="293.5" cy="379.8" r="1.75"/><circle class="o" cx="295.2" cy="380.4" r="1.75"/><circle class="o" cx="296.5" cy="380.5" r="1.75"/><circle class="o" cx="383.3" cy="275.2" r="1.75"/><circle class="o" cx="377.4" cy="281.6" r="1.75"/><circle class="o" cx="385.4" cy="282.7" r="1.75"/><circle class="o" cx="396.1" cy="286.4" r="1.75"/><circle class="o" cx="392.9" cy="291.2" r="1.75"/><circle class="o" cx="377.4" cy="295.2" r="1.75"/><circle class="o" cx="383.3" cy="296.1" r="1.75"/><circle class="o" cx="389.1" cy="296.9" r="1.75"/><circle class="o" cx="381.1" cy="299.3" r="1.75"/><circle class="o" cx="384.3" cy="298.7" r="1.75"/><circle class="o" cx="373.8" cy="307.6" r="1.75"/><circle class="f" cx="439.0" cy="217.2" r="2.0"/></g>
<g><circle class="o" cx="543.2" cy="322.1" r="1.75"/><circle class="o" cx="533.0" cy="327.9" r="1.75"/><circle class="o" cx="551.8" cy="326.2" r="1.75"/><circle class="o" cx="550.7" cy="321.8" r="1.75"/><circle class="o" cx="531.6" cy="346.5" r="1.75"/><circle class="o" cx="533.8" cy="338.8" r="1.75"/><circle class="o" cx="547.3" cy="325.2" r="1.75"/><circle class="o" cx="539.1" cy="340.6" r="1.75"/><circle class="o" cx="555.5" cy="306.1" r="1.75"/><circle class="o" cx="546.2" cy="333.7" r="1.75"/><circle class="o" cx="569.7" cy="285.5" r="1.75"/><circle class="o" cx="541.8" cy="326.5" r="1.75"/><circle class="o" cx="535.9" cy="331.3" r="1.75"/><circle class="o" cx="563.2" cy="306.4" r="1.75"/><circle class="o" cx="537.4" cy="351.2" r="1.75"/><circle class="o" cx="545.2" cy="337.8" r="1.75"/><circle class="o" cx="552.3" cy="319.5" r="1.75"/><circle class="o" cx="538.4" cy="334.6" r="1.75"/><circle class="o" cx="557.7" cy="327.0" r="1.75"/><circle class="o" cx="553.8" cy="317.4" r="1.75"/><circle class="o" cx="548.5" cy="333.0" r="1.75"/><circle class="o" cx="558.4" cy="298.3" r="1.75"/><circle class="o" cx="540.0" cy="347.0" r="1.75"/><circle class="o" cx="565.6" cy="317.0" r="1.75"/><circle class="o" cx="559.7" cy="323.8" r="1.75"/><circle class="o" cx="534.9" cy="308.7" r="1.75"/><circle class="o" cx="547.0" cy="327.8" r="1.75"/><circle class="o" cx="549.9" cy="331.9" r="1.75"/><circle class="o" cx="531.7" cy="351.9" r="1.75"/><circle class="o" cx="553.3" cy="339.0" r="1.75"/><circle class="o" cx="565.6" cy="317.5" r="1.75"/><circle class="o" cx="554.2" cy="305.3" r="1.75"/><circle class="o" cx="553.6" cy="342.8" r="1.75"/><circle class="o" cx="568.4" cy="302.2" r="1.75"/><circle class="o" cx="549.3" cy="328.0" r="1.75"/><circle class="o" cx="558.6" cy="320.8" r="1.75"/><circle class="o" cx="556.3" cy="298.4" r="1.75"/><circle class="o" cx="541.6" cy="334.1" r="1.75"/><circle class="o" cx="545.7" cy="330.5" r="1.75"/><circle class="o" cx="548.8" cy="328.6" r="1.75"/><circle class="o" cx="536.9" cy="334.7" r="1.75"/><circle class="o" cx="561.3" cy="312.2" r="1.75"/><circle class="o" cx="535.3" cy="338.9" r="1.75"/><circle class="o" cx="565.5" cy="299.6" r="1.75"/><circle class="o" cx="723.2" cy="161.6" r="1.75"/><circle class="o" cx="718.3" cy="175.8" r="1.75"/><circle class="o" cx="637.8" cy="174.2" r="1.75"/><circle class="o" cx="649.2" cy="179.6" r="1.75"/><circle class="o" cx="688.0" cy="191.3" r="1.75"/><circle class="o" cx="694.0" cy="194.4" r="1.75"/><circle class="o" cx="693.8" cy="199.1" r="1.75"/><circle class="o" cx="709.5" cy="193.5" r="1.75"/><circle class="o" cx="731.0" cy="195.2" r="1.75"/><circle class="o" cx="654.1" cy="197.1" r="1.75"/><circle class="o" cx="651.0" cy="199.2" r="1.75"/><circle class="o" cx="671.5" cy="201.0" r="1.75"/><circle class="o" cx="677.5" cy="204.8" r="1.75"/><circle class="o" cx="705.0" cy="203.9" r="1.75"/><circle class="o" cx="692.8" cy="210.8" r="1.75"/><circle class="o" cx="681.5" cy="214.6" r="1.75"/><circle class="o" cx="670.7" cy="217.4" r="1.75"/><circle class="o" cx="672.6" cy="219.5" r="1.75"/><circle class="o" cx="646.3" cy="215.5" r="1.75"/><circle class="o" cx="643.4" cy="224.1" r="1.75"/><circle class="o" cx="647.8" cy="224.1" r="1.75"/><circle class="o" cx="636.0" cy="225.5" r="1.75"/><circle class="o" cx="654.1" cy="231.1" r="1.75"/><circle class="o" cx="645.4" cy="232.9" r="1.75"/><circle class="o" cx="654.1" cy="236.9" r="1.75"/><circle class="o" cx="660.8" cy="235.7" r="1.75"/><circle class="o" cx="644.8" cy="238.0" r="1.75"/><circle class="o" cx="646.6" cy="238.0" r="1.75"/><circle class="o" cx="655.1" cy="242.0" r="1.75"/><circle class="o" cx="661.1" cy="242.7" r="1.75"/><circle class="o" cx="644.5" cy="243.6" r="1.75"/><circle class="o" cx="639.2" cy="246.9" r="1.75"/><circle class="o" cx="637.2" cy="251.9" r="1.75"/><circle class="o" cx="644.8" cy="251.6" r="1.75"/><circle class="o" cx="734.9" cy="221.4" r="1.75"/><circle class="o" cx="717.3" cy="235.8" r="1.75"/><circle class="o" cx="702.8" cy="238.9" r="1.75"/><circle class="o" cx="700.7" cy="243.8" r="1.75"/><circle class="o" cx="729.9" cy="241.9" r="1.75"/><circle class="o" cx="687.1" cy="250.5" r="1.75"/><circle class="o" cx="667.7" cy="254.5" r="1.75"/><circle class="o" cx="662.7" cy="259.4" r="1.75"/><circle class="o" cx="649.2" cy="259.2" r="1.75"/><circle class="o" cx="656.1" cy="265.8" r="1.75"/><circle class="o" cx="638.6" cy="268.6" r="1.75"/><circle class="o" cx="640.4" cy="271.0" r="1.75"/><circle class="o" cx="649.2" cy="272.4" r="1.75"/><circle class="o" cx="691.9" cy="277.7" r="1.75"/><circle class="o" cx="657.1" cy="280.4" r="1.75"/><circle class="o" cx="661.8" cy="292.1" r="1.75"/><circle class="o" cx="642.5" cy="298.0" r="1.75"/><circle class="o" cx="648.4" cy="312.4" r="1.75"/><circle class="o" cx="628.7" cy="201.2" r="1.75"/><circle class="o" cx="607.4" cy="207.9" r="1.75"/><circle class="o" cx="603.5" cy="214.3" r="1.75"/><circle class="o" cx="628.0" cy="214.8" r="1.75"/><circle class="o" cx="626.0" cy="224.4" r="1.75"/><circle class="o" cx="630.7" cy="223.3" r="1.75"/><circle class="o" cx="634.8" cy="225.4" r="1.75"/><circle class="o" cx="572.5" cy="225.4" r="1.75"/><circle class="o" cx="561.0" cy="229.1" r="1.75"/><circle class="o" cx="566.6" cy="232.9" r="1.75"/><circle class="o" cx="607.4" cy="234.2" r="1.75"/><circle class="o" cx="586.2" cy="237.6" r="1.75"/><circle class="o" cx="587.1" cy="239.2" r="1.75"/><circle class="o" cx="606.5" cy="239.8" r="1.75"/><circle class="o" cx="612.2" cy="240.8" r="1.75"/><circle class="o" cx="622.2" cy="238.0" r="1.75"/><circle class="o" cx="620.1" cy="243.0" r="1.75"/><circle class="o" cx="626.1" cy="245.7" r="1.75"/><circle class="o" cx="631.7" cy="244.5" r="1.75"/><circle class="o" cx="590.9" cy="246.9" r="1.75"/><circle class="o" cx="595.8" cy="246.9" r="1.75"/><circle class="o" cx="594.2" cy="248.6" r="1.75"/><circle class="o" cx="597.8" cy="252.3" r="1.75"/><circle class="o" cx="602.7" cy="253.2" r="1.75"/><circle class="o" cx="630.3" cy="248.3" r="1.75"/><circle class="o" cx="634.8" cy="249.4" r="1.75"/><circle class="o" cx="622.2" cy="250.8" r="1.75"/><circle class="o" cx="632.0" cy="251.3" r="1.75"/><circle class="o" cx="630.8" cy="254.5" r="1.75"/><circle class="o" cx="620.1" cy="255.4" r="1.75"/><circle class="o" cx="563.9" cy="252.3" r="1.75"/><circle class="o" cx="562.9" cy="254.2" r="1.75"/><circle class="o" cx="575.4" cy="253.3" r="1.75"/><circle class="o" cx="580.3" cy="252.3" r="1.75"/><circle class="o" cx="575.4" cy="258.3" r="1.75"/><circle class="o" cx="569.5" cy="259.4" r="1.75"/><circle class="o" cx="560.0" cy="259.4" r="1.75"/><circle class="o" cx="584.3" cy="259.2" r="1.75"/><circle class="o" cx="607.4" cy="258.3" r="1.75"/><circle class="o" cx="630.8" cy="257.7" r="1.75"/><circle class="o" cx="551.0" cy="263.0" r="1.75"/><circle class="o" cx="586.1" cy="263.0" r="1.75"/><circle class="o" cx="582.1" cy="264.8" r="1.75"/><circle class="o" cx="587.3" cy="264.8" r="1.75"/><circle class="o" cx="594.9" cy="264.1" r="1.75"/><circle class="o" cx="606.8" cy="262.6" r="1.75"/><circle class="o" cx="607.4" cy="265.1" r="1.75"/><circle class="o" cx="613.1" cy="263.0" r="1.75"/><circle class="o" cx="615.3" cy="264.8" r="1.75"/><circle class="o" cx="622.8" cy="264.8" r="1.75"/><circle class="o" cx="564.4" cy="266.0" r="1.75"/><circle class="o" cx="560.0" cy="268.0" r="1.75"/><circle class="o" cx="554.0" cy="269.6" r="1.75"/><circle class="o" cx="584.3" cy="267.4" r="1.75"/><circle class="o" cx="582.1" cy="271.9" r="1.75"/><circle class="o" cx="616.0" cy="272.4" r="1.75"/><circle class="o" cx="561.9" cy="276.8" r="1.75"/><circle class="o" cx="588.2" cy="277.7" r="1.75"/><circle class="o" cx="596.8" cy="278.7" r="1.75"/><circle class="o" cx="605.4" cy="279.5" r="1.75"/><circle class="o" cx="536.5" cy="282.3" r="1.75"/><circle class="o" cx="546.2" cy="284.3" r="1.75"/><circle class="o" cx="553.0" cy="284.1" r="1.75"/><circle class="o" cx="554.3" cy="286.6" r="1.75"/><circle class="o" cx="560.8" cy="284.1" r="1.75"/><circle class="o" cx="558.9" cy="285.5" r="1.75"/><circle class="o" cx="570.2" cy="286.2" r="1.75"/><circle class="o" cx="567.7" cy="288.4" r="1.75"/><circle class="o" cx="566.7" cy="291.3" r="1.75"/><circle class="o" cx="580.2" cy="285.2" r="1.75"/><circle class="o" cx="585.3" cy="284.1" r="1.75"/><circle class="o" cx="589.3" cy="286.6" r="1.75"/><circle class="o" cx="593.2" cy="285.2" r="1.75"/><circle class="o" cx="597.4" cy="281.4" r="1.75"/><circle class="o" cx="603.8" cy="286.6" r="1.75"/><circle class="o" cx="600.9" cy="288.4" r="1.75"/><circle class="o" cx="549.4" cy="293.2" r="1.75"/><circle class="o" cx="559.9" cy="295.6" r="1.75"/><circle class="o" cx="562.1" cy="297.3" r="1.75"/><circle class="o" cx="581.2" cy="293.2" r="1.75"/><circle class="o" cx="586.1" cy="293.2" r="1.75"/><circle class="o" cx="580.2" cy="295.6" r="1.75"/><circle class="o" cx="590.9" cy="295.1" r="1.75"/><circle class="o" cx="594.1" cy="293.2" r="1.75"/><circle class="o" cx="597.9" cy="296.9" r="1.75"/><circle class="o" cx="586.6" cy="297.5" r="1.75"/><circle class="o" cx="580.2" cy="298.5" r="1.75"/><circle class="o" cx="543.3" cy="302.3" r="1.75"/><circle class="o" cx="542.5" cy="305.0" r="1.75"/><circle class="o" cx="552.1" cy="301.8" r="1.75"/><circle class="o" cx="555.9" cy="301.2" r="1.75"/><circle class="o" cx="558.9" cy="302.0" r="1.75"/><circle class="o" cx="567.7" cy="303.9" r="1.75"/><circle class="o" cx="574.7" cy="303.4" r="1.75"/><circle class="o" cx="583.4" cy="301.2" r="1.75"/><circle class="o" cx="599.0" cy="301.2" r="1.75"/><circle class="o" cx="589.3" cy="303.9" r="1.75"/><circle class="o" cx="590.9" cy="305.2" r="1.75"/><circle class="o" cx="594.1" cy="303.9" r="1.75"/><circle class="o" cx="562.9" cy="306.6" r="1.75"/><circle class="o" cx="560.8" cy="308.0" r="1.75"/><circle class="o" cx="565.9" cy="308.7" r="1.75"/><circle class="o" cx="543.5" cy="308.0" r="1.75"/><circle class="o" cx="550.0" cy="309.3" r="1.75"/><circle class="o" cx="539.8" cy="311.2" r="1.75"/><circle class="o" cx="544.1" cy="311.9" r="1.75"/><circle class="o" cx="548.4" cy="311.9" r="1.75"/><circle class="o" cx="573.6" cy="308.0" r="1.75"/><circle class="o" cx="576.9" cy="307.7" r="1.75"/><circle class="o" cx="599.0" cy="307.7" r="1.75"/><circle class="o" cx="602.8" cy="307.7" r="1.75"/><circle class="o" cx="606.5" cy="308.2" r="1.75"/><circle class="o" cx="581.2" cy="311.4" r="1.75"/><circle class="o" cx="585.0" cy="312.3" r="1.75"/><circle class="o" cx="572.6" cy="314.1" r="1.75"/><circle class="o" cx="566.7" cy="313.5" r="1.75"/><circle class="o" cx="555.9" cy="313.5" r="1.75"/><circle class="o" cx="534.4" cy="314.1" r="1.75"/><circle class="o" cx="531.7" cy="315.7" r="1.75"/><circle class="o" cx="528.2" cy="314.1" r="1.75"/><circle class="o" cx="546.2" cy="316.8" r="1.75"/><circle class="o" cx="554.3" cy="317.3" r="1.75"/><circle class="o" cx="562.9" cy="316.2" r="1.75"/><circle class="o" cx="577.4" cy="316.2" r="1.75"/><circle class="o" cx="583.4" cy="317.3" r="1.75"/><circle class="o" cx="533.6" cy="319.2" r="1.75"/><circle class="o" cx="548.4" cy="318.8" r="1.75"/><circle class="o" cx="576.3" cy="318.5" r="1.75"/><circle class="o" cx="580.7" cy="318.8" r="1.75"/><circle class="o" cx="585.5" cy="318.5" r="1.75"/><circle class="o" cx="565.6" cy="321.1" r="1.75"/><circle class="o" cx="578.6" cy="321.4" r="1.75"/><circle class="o" cx="582.3" cy="323.1" r="1.75"/><circle class="o" cx="593.9" cy="322.0" r="1.75"/><circle class="o" cx="575.2" cy="324.3" r="1.75"/><circle class="o" cx="541.4" cy="322.2" r="1.75"/><circle class="o" cx="545.7" cy="322.2" r="1.75"/><circle class="o" cx="548.4" cy="321.7" r="1.75"/><circle class="o" cx="554.8" cy="321.7" r="1.75"/><circle class="o" cx="552.1" cy="325.2" r="1.75"/><circle class="o" cx="558.6" cy="326.0" r="1.75"/><circle class="o" cx="561.0" cy="324.9" r="1.75"/><circle class="o" cx="540.3" cy="327.0" r="1.75"/><circle class="o" cx="534.4" cy="327.6" r="1.75"/><circle class="o" cx="529.8" cy="327.0" r="1.75"/><circle class="o" cx="555.9" cy="327.6" r="1.75"/><circle class="o" cx="561.9" cy="328.6" r="1.75"/><circle class="o" cx="569.4" cy="327.0" r="1.75"/><circle class="o" cx="573.4" cy="327.3" r="1.75"/><circle class="o" cx="548.4" cy="329.2" r="1.75"/><circle class="o" cx="545.7" cy="331.3" r="1.75"/><circle class="o" cx="555.9" cy="330.2" r="1.75"/><circle class="o" cx="532.8" cy="331.8" r="1.75"/><circle class="o" cx="541.4" cy="332.9" r="1.75"/><circle class="o" cx="552.1" cy="332.4" r="1.75"/><circle class="o" cx="567.4" cy="331.6" r="1.75"/><circle class="o" cx="561.0" cy="334.0" r="1.75"/><circle class="o" cx="580.2" cy="333.4" r="1.75"/><circle class="o" cx="581.2" cy="334.8" r="1.75"/><circle class="o" cx="543.6" cy="336.1" r="1.75"/><circle class="o" cx="555.9" cy="337.0" r="1.75"/><circle class="o" cx="550.0" cy="338.5" r="1.75"/><circle class="o" cx="541.4" cy="339.9" r="1.75"/><circle class="o" cx="545.7" cy="339.3" r="1.75"/><circle class="o" cx="545.2" cy="341.7" r="1.75"/><circle class="o" cx="556.9" cy="342.5" r="1.75"/><circle class="o" cx="560.3" cy="341.5" r="1.75"/><circle class="o" cx="531.1" cy="344.7" r="1.75"/><circle class="o" cx="538.1" cy="346.3" r="1.75"/><circle class="o" cx="543.0" cy="347.0" r="1.75"/><circle class="o" cx="556.4" cy="346.3" r="1.75"/><circle class="o" cx="559.7" cy="346.3" r="1.75"/><circle class="o" cx="528.2" cy="349.0" r="1.75"/><circle class="o" cx="532.8" cy="350.3" r="1.75"/><circle class="o" cx="539.8" cy="350.0" r="1.75"/><circle class="o" cx="544.6" cy="350.0" r="1.75"/><circle class="o" cx="554.8" cy="348.4" r="1.75"/><circle class="o" cx="556.9" cy="350.0" r="1.75"/><circle class="o" cx="561.0" cy="350.0" r="1.75"/><circle class="o" cx="547.0" cy="352.2" r="1.75"/><circle class="o" cx="539.3" cy="352.2" r="1.75"/><circle class="o" cx="545.2" cy="354.3" r="1.75"/><circle class="o" cx="534.4" cy="354.3" r="1.75"/><circle class="o" cx="555.9" cy="354.9" r="1.75"/><circle class="o" cx="534.4" cy="358.1" r="1.75"/><circle class="o" cx="550.0" cy="358.6" r="1.75"/><circle class="o" cx="543.6" cy="360.5" r="1.75"/><circle class="o" cx="528.2" cy="352.2" r="1.75"/><circle class="o" cx="545.8" cy="364.1" r="1.75"/><circle class="o" cx="549.1" cy="363.6" r="1.75"/><circle class="o" cx="540.3" cy="368.5" r="1.75"/><circle class="o" cx="548.3" cy="373.3" r="1.75"/><circle class="o" cx="528.2" cy="365.5" r="1.75"/><circle class="o" cx="528.2" cy="371.5" r="1.75"/><circle class="o" cx="528.2" cy="373.7" r="1.75"/><circle class="o" cx="528.2" cy="377.3" r="1.75"/><circle class="o" cx="528.0" cy="379.5" r="1.75"/><circle class="o" cx="529.7" cy="380.1" r="1.75"/><circle class="o" cx="531.0" cy="380.2" r="1.75"/><circle class="o" cx="618.2" cy="274.9" r="1.75"/><circle class="o" cx="612.2" cy="281.3" r="1.75"/><circle class="o" cx="620.3" cy="282.4" r="1.75"/><circle class="o" cx="631.0" cy="286.1" r="1.75"/><circle class="o" cx="627.8" cy="290.9" r="1.75"/><circle class="o" cx="612.2" cy="294.9" r="1.75"/><circle class="o" cx="618.2" cy="295.8" r="1.75"/><circle class="o" cx="624.0" cy="296.6" r="1.75"/><circle class="o" cx="615.9" cy="299.0" r="1.75"/><circle class="o" cx="619.2" cy="298.4" r="1.75"/><circle class="o" cx="608.6" cy="307.3" r="1.75"/><circle class="o" cx="674.0" cy="216.9" r="1.75"/></g>
<path class="ln" style="stroke-width:1.5" d="M63.5 340.2L270.6 177.8"/>
<path class="ln" d="M294.5 346.6L400.9 244.1"/>
<path class="ln" d="M400.9 250.5L502.1 199.9"/>
<line x1="400.7" x2="400.7" y1="107.4" y2="423.8" stroke="#555" stroke-width="1.1" stroke-dasharray="4.2 2.7"/>
<path class="ln" style="stroke-width:1.35" d="M529.0 350.2L531.7 347.0L534.3 343.8L537.0 340.7L539.7 337.6L542.4 334.5L545.0 331.5L547.7 328.5L550.4 325.5L553.0 322.6L555.7 319.7L558.4 316.9L561.1 314.1L563.7 311.3L566.4 308.6L569.1 305.9L571.7 303.2L574.4 300.6L577.1 298.0L579.8 295.5L582.4 292.9L585.1 290.5L587.8 288.0L590.4 285.6L593.1 283.2L595.8 280.9L598.5 278.6L601.1 276.4L603.8 274.1L606.5 272.0L609.1 269.8L611.8 267.7L614.5 265.6L617.2 263.6L619.8 261.6L622.5 259.6L625.2 257.7L627.8 255.8L630.5 253.9L633.2 252.1L635.9 250.3L638.5 248.6L641.2 246.9L643.9 245.2L646.5 243.6L649.2 242.0L651.9 240.4L654.5 238.9L657.2 237.4L659.9 235.9L662.6 234.5L665.2 233.2L667.9 231.8L670.6 230.5L673.2 229.2L675.9 228.0L678.6 226.8L681.3 225.6L683.9 224.5L686.6 223.4L689.3 222.4L691.9 221.4L694.6 220.4L697.3 219.5L700.0 218.5L702.6 217.7L705.3 216.9L708.0 216.1L710.6 215.3L713.3 214.6L716.0 213.9L718.7 213.2L721.3 212.6L724.0 212.1L726.7 211.5L729.3 211.0L732.0 210.6L734.7 210.1L735.8 210.0"/>
<text class="t" x="109.4" y="55.5">y = 0.063x<tspan dx="1.8">&#160;+ 32.596</tspan></text>
<text class="t" x="166.8" y="70.3">r² = 0.648</text>
<text class="t" x="168.0" y="85.2">n = 316</text>
<text class="t" x="168.0" y="100.3">p&lt;0.001</text>
<circle cx="310.9" cy="34.3" r="3.8" fill="#fff" stroke="#888" stroke-width="1"/>
<path d="M334.8 29.2L325.3 33.6L334.8 38.0" fill="none" stroke="#666" stroke-width="1"/>
<text class="t" x="340.2" y="38.8">200 ng/mL</text>
<text class="t" x="300.2" y="55.5">y = 0.077x<tspan dx="1.1">&#160;+ 31.605</tspan></text>
<text class="t" x="357" y="70.3">r² = 0.535</text>
<text class="t" x="358" y="85.2">n = 262</text>
<text class="t" x="360" y="100.3">p&lt;0.001</text>
<circle class="f" cx="413" cy="346.5" r="3.7"/>
<text class="t" x="423.2" y="352.6">≧<tspan dx="-0.6"> 200 ng/mL</tspan></text>
<text class="t" x="391" y="368.9">y = 0.040x<tspan dx="1.1">&#160;+ 38.034</tspan></text>
<text class="t" x="448" y="383.9">r² = 0.180</text>
<text class="t" x="447" y="398.9">n = 54</text>
<text class="t" x="449" y="413.8">p=0.001</text>
<text class="t" x="540.3" y="63.4" textLength="74.8" lengthAdjust="spacing">y = −0.0001x</text>
<text class="t" x="615.0" y="59.2" style="font-size:9.3px">2</text>
<text class="t" x="623.4" y="63.4" textLength="48.6" lengthAdjust="spacing">+ 0.097x</text>
<text class="t" x="676.5" y="63.4" textLength="47.9" lengthAdjust="spacing">+ 31.016</text>
<text class="t" x="668.8" y="77.9">r² = 0.668</text>
<text class="t" x="667.2" y="92.5">n = 316</text>
</svg></body></html>
